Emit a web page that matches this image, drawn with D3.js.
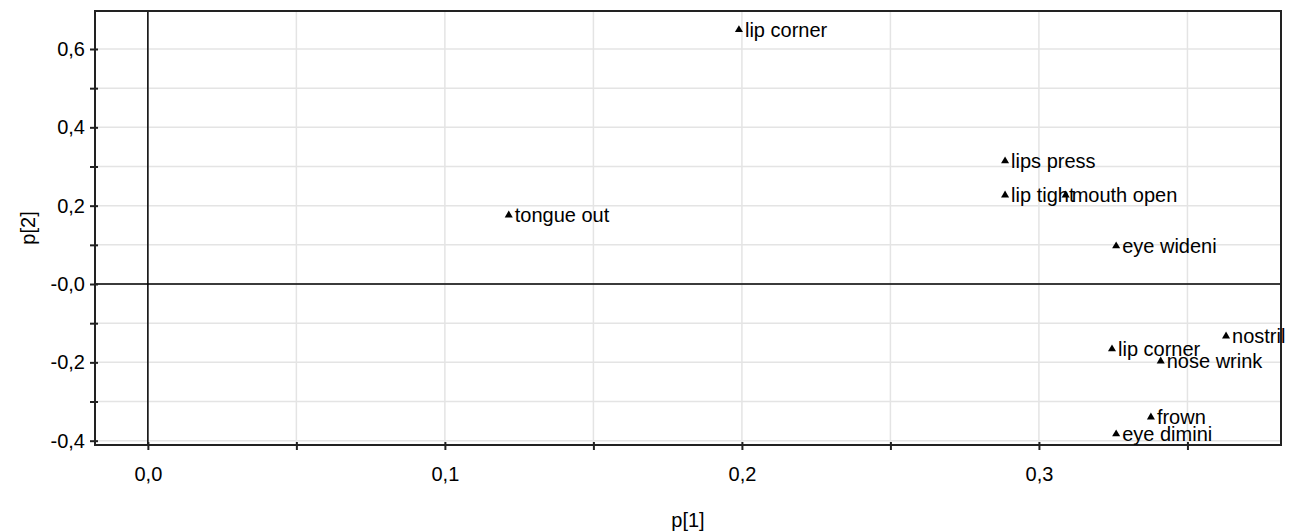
<!DOCTYPE html>
<html>
<head>
<meta charset="utf-8">
<script src="https://d3js.org/d3.v7.min.js"></script>
<style>
  body { margin: 0; background: #fff; }
  text { font-family: "Liberation Sans", Arial, sans-serif; fill: #000; }
</style>
</head>
<body>
<div id="graph"></div>
<script>
// loadings
var labels = ["lip corner", "lips press", "lip tight", "mouth open", "tongue out",
              "eye wideni", "nostril", "lip corner", "nose wrink", "frown", "eye dimini"];
var p1 = [0.199, 0.2886, 0.2886, 0.309, 0.1215, 0.326, 0.363, 0.3246, 0.341, 0.3377, 0.326];
var p2 = [0.649, 0.314, 0.227, 0.227, 0.176, 0.097, -0.133, -0.166, -0.197, -0.340, -0.383];

var xTicks = [0, 0.1, 0.2, 0.3];
var xMinor = [0.05, 0.15, 0.25, 0.35];
var yTicks = [0.6, 0.4, 0.2, 0, -0.2, -0.4];
var yMinor = [0.5, 0.3, 0.1, -0.1, -0.3];

var W = 1293, H = 531;
var margin = {top: 11, right: 12, bottom: 86, left: 95},
    width = W - margin.left - margin.right,
    height = H - margin.top - margin.bottom;

var svg = d3.select("#graph")
  .append("svg")
    .attr("width", W)
    .attr("height", H)
  .append("g")
    .attr("transform", "translate(" + margin.left + "," + margin.top + ")");

var x = d3.scaleLinear().domain([-0.0178, 0.3815]).range([0, width]);
var y = d3.scaleLinear().domain([-0.411, 0.697]).range([height, 0]);

function fmt(v) {
  var s = d3.format(".1f")(Math.abs(v)).replace(".", ",");
  return (v < 0 || (v === 0 && s === "0,0" && this === "y")) ? "-" + s : s;
}

// grid lines
var grid = svg.append("g").attr("stroke", "#e4e4e4").attr("stroke-width", 1.5);
xTicks.concat(xMinor).forEach(function (v) {
  grid.append("line").attr("x1", x(v)).attr("x2", x(v)).attr("y1", 0).attr("y2", height);
});
yTicks.concat(yMinor).forEach(function (v) {
  grid.append("line").attr("x1", 0).attr("x2", width).attr("y1", y(v)).attr("y2", y(v));
});

// zero lines
svg.append("line").attr("x1", x(0)).attr("x2", x(0)).attr("y1", 0).attr("y2", height)
  .attr("stroke", "#000").attr("stroke-width", 1.5);
svg.append("line").attr("x1", 0).attr("x2", width).attr("y1", y(0)).attr("y2", y(0))
  .attr("stroke", "#000").attr("stroke-width", 1.5);

// frame
svg.append("rect").attr("width", width).attr("height", height)
  .attr("fill", "none").attr("stroke", "#222").attr("stroke-width", 2);

// axes
var xAxis = svg.append("g")
  .attr("transform", "translate(0," + height + ")")
  .call(d3.axisBottom(x).tickValues(xTicks.concat(xMinor)).tickSize(5).tickSizeOuter(0)
    .tickFormat(function (d) { return xTicks.indexOf(d) >= 0 ? d3.format(".1f")(d).replace(".", ",") : ""; }));
xAxis.select(".domain").remove();
xAxis.selectAll(".tick line").attr("y1", -3).attr("stroke", "#222").attr("stroke-width", 2);
xAxis.selectAll(".tick text").attr("y", 22).style("font-size", "20px").style("font-family", "Liberation Sans, Arial, sans-serif");

var yAxis = svg.append("g")
  .call(d3.axisLeft(y).tickValues(yTicks.concat(yMinor)).tickSize(5).tickSizeOuter(0)
    .tickFormat(function (d) {
      if (yTicks.indexOf(d) < 0) return "";
      var s = d3.format(".1f")(Math.abs(d)).replace(".", ",");
      return d <= 0 ? "-" + s : s;
    }));
yAxis.select(".domain").remove();
yAxis.selectAll(".tick line").attr("x1", 3).attr("stroke", "#222").attr("stroke-width", 2);
yAxis.selectAll(".tick text").attr("x", -10).style("font-size", "20px").style("font-family", "Liberation Sans, Arial, sans-serif");

// axis titles
svg.append("text")
  .attr("x", width / 2)
  .attr("y", height + 82)
  .style("text-anchor", "middle")
  .style("font-size", "20px")
  .text("p[1]");

svg.append("text")
  .attr("transform", "rotate(-90)")
  .attr("x", -height / 2)
  .attr("y", -60)
  .style("text-anchor", "middle")
  .style("font-size", "20px")
  .text("p[2]");

// points and labels
var pts = labels.map(function (l, i) { return {label: l, x: p1[i], y: p2[i]}; });
var tri = d3.symbol().type(d3.symbolTriangle).size(28);

var g = svg.append("g").selectAll("g").data(pts).enter().append("g")
  .attr("transform", function (d) { return "translate(" + x(d.x) + "," + y(d.y) + ")"; });
g.append("path").attr("d", tri).attr("fill", "#000");
g.append("text")
  .attr("x", 6)
  .attr("y", 7)
  .style("font-size", "20px")
  .text(function (d) { return d.label; });
</script>
</body>
</html>
